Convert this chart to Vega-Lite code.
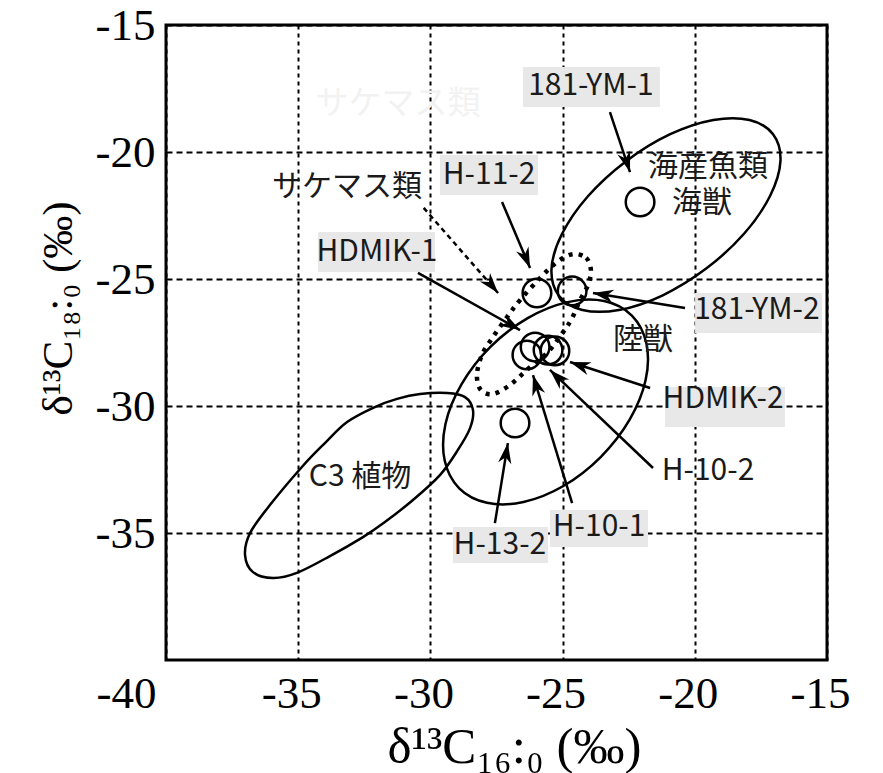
{
  "$schema": "https://vega.github.io/schema/vega-lite/v6.json",
  "width": 661,
  "height": 635,
  "autosize": {"type": "none"},
  "padding": {"left": 166, "top": 25, "right": 56, "bottom": 113},
  "background": "white",
  "datasets": {
    "ellipses": [
      {"g": "m", "i": 1, "x": -17.04, "y": -19.30}, {"g": "m", "i": 2, "x": -16.76, "y": -20.35}, {"g": "m", "i": 3, "x": -17.15, "y": -21.72}, {"g": "m", "i": 4, "x": -18.13, "y": -23.21}, {"g": "m", "i": 5, "x": -19.57, "y": -24.59}, {"g": "m", "i": 6, "x": -21.23, "y": -25.65}, {"g": "m", "i": 7, "x": -22.87, "y": -26.22}, {"g": "m", "i": 8, "x": -24.25, "y": -26.22}, {"g": "m", "i": 9, "x": -25.14, "y": -25.66}, {"g": "m", "i": 10, "x": -25.42, "y": -24.61}, {"g": "m", "i": 11, "x": -25.03, "y": -23.24}, {"g": "m", "i": 12, "x": -24.05, "y": -21.75}, {"g": "m", "i": 13, "x": -22.61, "y": -20.37}, {"g": "m", "i": 14, "x": -20.95, "y": -19.31}, {"g": "m", "i": 15, "x": -19.30, "y": -18.74}, {"g": "m", "i": 16, "x": -17.93, "y": -18.74},
      {"g": "t", "i": 1, "x": -22.38, "y": -26.44}, {"g": "t", "i": 2, "x": -21.83, "y": -27.54}, {"g": "t", "i": 3, "x": -21.86, "y": -28.98}, {"g": "t", "i": 4, "x": -22.47, "y": -30.55}, {"g": "t", "i": 5, "x": -23.56, "y": -32.01}, {"g": "t", "i": 6, "x": -24.97, "y": -33.15}, {"g": "t", "i": 7, "x": -26.48, "y": -33.78}, {"g": "t", "i": 8, "x": -27.86, "y": -33.81}, {"g": "t", "i": 9, "x": -28.91, "y": -33.24}, {"g": "t", "i": 10, "x": -29.46, "y": -32.15}, {"g": "t", "i": 11, "x": -29.43, "y": -30.71}, {"g": "t", "i": 12, "x": -28.82, "y": -29.14}, {"g": "t", "i": 13, "x": -27.73, "y": -27.67}, {"g": "t", "i": 14, "x": -26.32, "y": -26.54}, {"g": "t", "i": 15, "x": -24.81, "y": -25.91}, {"g": "t", "i": 16, "x": -23.43, "y": -25.87},
      {"g": "c", "i": 1, "x": -29.37, "y": -29.49}, {"g": "c", "i": 2, "x": -28.69, "y": -29.65}, {"g": "c", "i": 3, "x": -28.39, "y": -30.16}, {"g": "c", "i": 4, "x": -28.50, "y": -30.87}, {"g": "c", "i": 5, "x": -28.96, "y": -31.73}, {"g": "c", "i": 6, "x": -29.64, "y": -32.72}, {"g": "c", "i": 7, "x": -30.66, "y": -33.70}, {"g": "c", "i": 8, "x": -31.72, "y": -34.57}, {"g": "c", "i": 9, "x": -32.55, "y": -35.16}, {"g": "c", "i": 10, "x": -33.80, "y": -35.91}, {"g": "c", "i": 11, "x": -35.05, "y": -36.57}, {"g": "c", "i": 12, "x": -35.95, "y": -36.77}, {"g": "c", "i": 13, "x": -36.71, "y": -36.54}, {"g": "c", "i": 14, "x": -37.01, "y": -35.87}, {"g": "c", "i": 15, "x": -36.82, "y": -35.00}, {"g": "c", "i": 16, "x": -36.07, "y": -33.90}, {"g": "c", "i": 17, "x": -34.86, "y": -32.40}, {"g": "c", "i": 18, "x": -33.99, "y": -31.46}, {"g": "c", "i": 19, "x": -33.15, "y": -30.63}, {"g": "c", "i": 20, "x": -32.10, "y": -30.04}, {"g": "c", "i": 21, "x": -31.26, "y": -29.72}, {"g": "c", "i": 22, "x": -30.39, "y": -29.53}
    ],
    "salmon": [
      {"g": "s", "i": 1, "x": -24.61, "y": -24.02}, {"g": "s", "i": 2, "x": -24.11, "y": -24.17}, {"g": "s", "i": 3, "x": -23.93, "y": -24.65}, {"g": "s", "i": 4, "x": -24.04, "y": -25.24}, {"g": "s", "i": 5, "x": -24.34, "y": -25.83}, {"g": "s", "i": 6, "x": -24.64, "y": -26.54}, {"g": "s", "i": 7, "x": -24.98, "y": -27.09}, {"g": "s", "i": 8, "x": -25.55, "y": -27.87}, {"g": "s", "i": 9, "x": -26.35, "y": -28.58}, {"g": "s", "i": 10, "x": -26.99, "y": -29.17}, {"g": "s", "i": 11, "x": -27.63, "y": -29.53}, {"g": "s", "i": 12, "x": -28.09, "y": -29.37}, {"g": "s", "i": 13, "x": -28.24, "y": -28.78}, {"g": "s", "i": 14, "x": -28.05, "y": -27.99}, {"g": "s", "i": 15, "x": -27.63, "y": -27.28}, {"g": "s", "i": 16, "x": -27.10, "y": -26.50}, {"g": "s", "i": 17, "x": -26.61, "y": -25.83}, {"g": "s", "i": 18, "x": -25.85, "y": -24.96}, {"g": "s", "i": 19, "x": -25.21, "y": -24.33}
    ],
    "points": [
      {"name": "marine", "x": -22.07, "y": -21.97},
      {"name": "H-11-2", "x": -25.97, "y": -25.55},
      {"name": "181-YM-2", "x": -24.64, "y": -25.47},
      {"name": "HDMIK-1", "x": -26.35, "y": -27.99},
      {"name": "H-10-1", "x": -26.04, "y": -27.68},
      {"name": "H-10-2", "x": -25.55, "y": -27.80},
      {"name": "HDMIK-2", "x": -25.29, "y": -27.83},
      {"name": "H-13-2", "x": -26.80, "y": -30.67}
    ],
    "arrows": [
      {"label": "181-YM-1", "x": -22.45, "y": -20.79, "xs": -23.21, "ys": -18.43},
      {"label": "H-11-2", "x": -26.23, "y": -24.57, "xs": -27.29, "ys": -21.97},
      {"label": "サケマス類", "x": -27.44, "y": -25.55, "xs": -30.28, "ys": -22.17},
      {"label": "HDMIK-1", "x": -26.61, "y": -27.01, "xs": -30.47, "ys": -24.76},
      {"label": "181-YM-2", "x": -23.85, "y": -25.55, "xs": -20.37, "ys": -26.14},
      {"label": "HDMIK-2", "x": -24.72, "y": -28.27, "xs": -21.69, "ys": -29.29},
      {"label": "H-10-2", "x": -25.48, "y": -28.58, "xs": -21.58, "ys": -32.44},
      {"label": "H-10-1", "x": -26.12, "y": -28.78, "xs": -24.64, "ys": -33.82},
      {"label": "H-13-2", "x": -27.07, "y": -31.46, "xs": -27.56, "ys": -34.61}
    ],
    "boxes": [
      {"label": "181-YM-1", "x": -26.50, "y": -16.65, "xb": -21.32, "yb": -18.23},
      {"label": "H-11-2", "x": -29.64, "y": -20.12, "xb": -25.93, "yb": -21.69},
      {"label": "HDMIK-1", "x": -34.25, "y": -23.15, "xb": -29.83, "yb": -24.72},
      {"label": "181-YM-2", "x": -19.99, "y": -25.55, "xb": -15.19, "yb": -27.13},
      {"label": "HDMIK-2", "x": -21.13, "y": -29.25, "xb": -16.59, "yb": -30.83},
      {"label": "H-10-1", "x": -25.48, "y": -34.09, "xb": -21.77, "yb": -35.55},
      {"label": "H-13-2", "x": -29.15, "y": -34.76, "xb": -25.55, "yb": -36.18}
    ],
    "labels": [
      {"text": "181-YM-1", "x": -23.93, "y": -17.40},
      {"text": "H-11-2", "x": -27.78, "y": -20.91},
      {"text": "サケマス類", "x": -33.15, "y": -21.38},
      {"text": "HDMIK-1", "x": -32.02, "y": -23.94},
      {"text": "181-YM-2", "x": -17.65, "y": -26.22},
      {"text": "陸獣", "x": -21.96, "y": -27.40},
      {"text": "海産魚類", "x": -19.50, "y": -20.58},
      {"text": "海獣", "x": -19.73, "y": -22.02},
      {"text": "HDMIK-2", "x": -18.93, "y": -29.72},
      {"text": "H-10-2", "x": -19.50, "y": -32.56},
      {"text": "H-10-1", "x": -23.62, "y": -34.76},
      {"text": "H-13-2", "x": -27.37, "y": -35.47},
      {"text": "C3 植物", "x": -32.66, "y": -32.80}
    ],
    "ghost": [
      {"text": "サケマス類", "x": -31.23, "y": -18.11}
    ]
  },
  "encoding": {
    "x": {
      "field": "x",
      "type": "quantitative",
      "scale": {"domain": [-40, -15], "nice": false, "zero": false},
      "axis": {
        "title": "δ¹³C₁₆:₀ (‰)",
        "values": [-40, -35, -30, -25, -20, -15],
        "labelExpr": "'' + datum.value",
        "ticks": false,
        "domain": false,
        "grid": true,
        "gridColor": "black",
        "gridDash": [4, 4],
        "gridWidth": 2,
        "gridOpacity": 1,
        "labelFont": "Liberation Serif",
        "labelFontSize": 45,
        "labelColor": "black",
        "labelPadding": 11,
        "labelFlush": false,
        "labelOverlap": false,
        "labelOffset": {"condition": {"test": "datum.value == -40", "value": -40}, "value": -7},
        "titleFont": "Liberation Serif, DejaVu Serif",
        "titleFontSize": 51,
        "titleFontWeight": "normal",
        "titleColor": "black",
        "titleX": 348,
        "titleY": 102,
        "titleAlign": "center",
        "titleBaseline": "alphabetic"
      }
    },
    "y": {
      "field": "y",
      "type": "quantitative",
      "scale": {"domain": [-40, -15], "nice": false, "zero": false},
      "axis": {
        "title": "δ¹³C₁₈:₀ (‰)",
        "values": [-35, -30, -25, -20, -15],
        "labelExpr": "'' + datum.value",
        "ticks": false,
        "domain": false,
        "grid": true,
        "gridColor": "black",
        "gridDash": [6, 4],
        "gridWidth": 2,
        "gridOpacity": 1,
        "labelFont": "Liberation Serif",
        "labelFontSize": 45,
        "labelColor": "black",
        "labelPadding": 11,
        "labelFlush": false,
        "labelOverlap": false,
        "titleFont": "Liberation Serif, DejaVu Serif",
        "titleFontSize": 43,
        "titleFontWeight": "normal",
        "titleColor": "black",
        "titleAngle": -90,
        "titleX": -108,
        "titleY": 283,
        "titleAlign": "center",
        "titleBaseline": "middle"
      }
    }
  },
  "layer": [
    {
      "data": {"name": "ghost"},
      "mark": {"type": "text", "font": "Noto Sans CJK JP", "fontSize": 33, "color": "#f2f2f2", "align": "center", "baseline": "middle"},
      "encoding": {"text": {"field": "text"}}
    },
    {
      "data": {"name": "boxes"},
      "mark": {"type": "rect", "fill": "#e8e8e8"},
      "encoding": {"x2": {"field": "xb"}, "y2": {"field": "yb"}}
    },
    {
      "data": {"name": "ellipses"},
      "mark": {"type": "line", "interpolate": "cardinal-closed", "stroke": "black", "strokeWidth": 2.5},
      "encoding": {"detail": {"field": "g"}, "order": {"field": "i", "type": "quantitative"}}
    },
    {
      "data": {"name": "salmon"},
      "mark": {"type": "line", "interpolate": "cardinal-closed", "stroke": "black", "strokeWidth": 4.5, "strokeDash": [4, 6]},
      "encoding": {"detail": {"field": "g"}, "order": {"field": "i", "type": "quantitative"}}
    },
    {
      "data": {"name": "points"},
      "mark": {"type": "point", "filled": false, "stroke": "black", "strokeWidth": 2.5, "size": 820, "opacity": 1}
    },
    {
      "data": {"name": "arrows"},
      "transform": [{"filter": "datum.label !== 'サケマス類'"}],
      "mark": {"type": "rule", "stroke": "black", "strokeWidth": 2.5},
      "encoding": {"x2": {"field": "xs"}, "y2": {"field": "ys"}}
    },
    {
      "data": {"name": "arrows"},
      "transform": [{"filter": "datum.label === 'サケマス類'"}],
      "mark": {"type": "rule", "stroke": "black", "strokeWidth": 2.5, "strokeDash": [5, 4]},
      "encoding": {"x2": {"field": "xs"}, "y2": {"field": "ys"}}
    },
    {
      "data": {"name": "arrows"},
      "transform": [{"calculate": "atan2(datum.x - datum.xs, datum.y - datum.ys) * 180 / PI", "as": "ang"}],
      "mark": {"type": "point", "shape": "M0,0 L0.65,2 L0,1.4 L-0.65,2 Z", "filled": true, "fill": "black", "strokeWidth": 0, "size": 420, "opacity": 1},
      "encoding": {"angle": {"field": "ang", "type": "quantitative", "scale": null}}
    },
    {
      "data": {"name": "labels"},
      "mark": {"type": "text", "font": "Noto Sans CJK JP", "fontSize": 30, "color": "#1a1a1a", "align": "center", "baseline": "middle"},
      "encoding": {"text": {"field": "text"}}
    }
  ],
  "config": {
    "view": {"stroke": "black", "strokeWidth": 3},
    "font": "Noto Sans CJK JP"
  }
}
